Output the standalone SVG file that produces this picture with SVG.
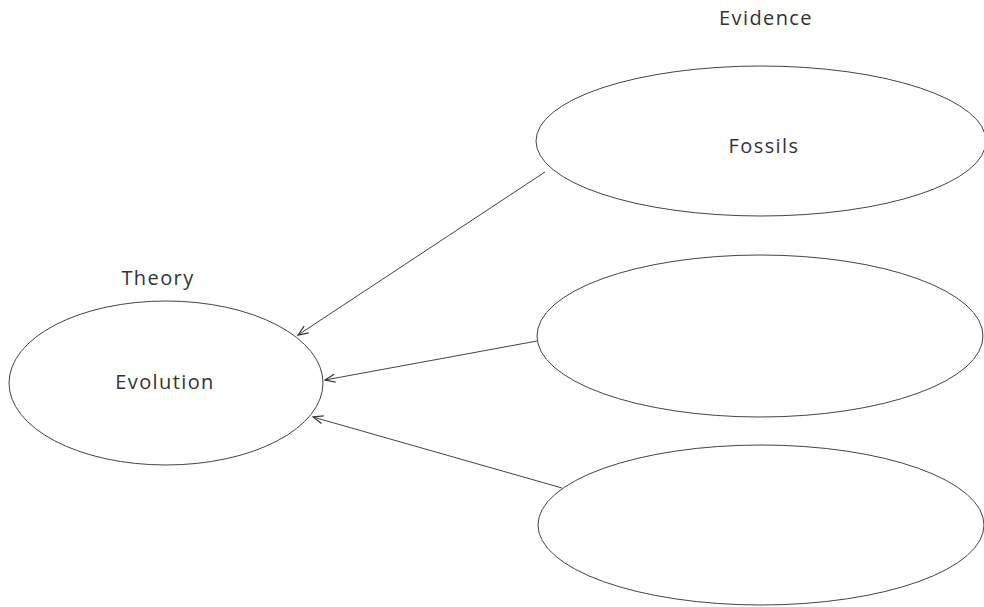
<svg xmlns="http://www.w3.org/2000/svg" width="984" height="607" viewBox="0 0 984 607">
<style>
.node{fill:#fff;stroke:#444;stroke-width:1}
.lbl{font-family:"Open Sans","Noto Sans",sans-serif;font-size:20px;fill:#333;text-anchor:middle;letter-spacing:1.4px}
.edge{stroke:#444;stroke-width:1;fill:none;marker-end:url(#arr)}
</style>
<defs>
<marker id="arr" viewBox="0 0 12 10" refX="11" refY="5" markerWidth="12" markerHeight="10" markerUnits="userSpaceOnUse" orient="auto">
<path d="M1,1 L11,5 L1,9" fill="none" stroke="#333" stroke-width="1.2"/>
</marker>
</defs>
<rect width="984" height="607" fill="#fff"/>
<text class="lbl" x="766" y="25">Evidence</text>
<text class="lbl" x="158" y="285">Theory</text>
<g id="evolution">
<ellipse class="node" cx="166" cy="383" rx="157" ry="82"/>
<text class="lbl" x="165" y="389">Evolution</text>
</g>
<g id="fossils">
<ellipse class="node" cx="761" cy="141" rx="225" ry="75"/>
<text class="lbl" x="764" y="153">Fossils</text>
</g>
<g id="evidence2">
<ellipse class="node" cx="760" cy="336" rx="223" ry="81"/>
</g>
<g id="evidence3">
<ellipse class="node" cx="761" cy="525" rx="223" ry="80"/>
</g>
<g id="connectors">
<line class="edge" x1="545" y1="172" x2="298" y2="335"/>
<line class="edge" x1="537" y1="341" x2="325" y2="380"/>
<line class="edge" x1="562" y1="488" x2="313" y2="417"/>
</g>
</svg>
